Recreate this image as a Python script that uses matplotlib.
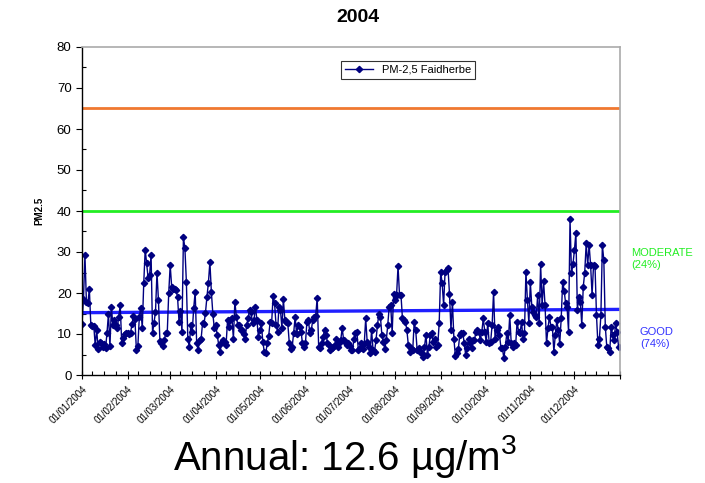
import numpy as np
import pandas as pd
import matplotlib
matplotlib.use("Agg")
import matplotlib.pyplot as plt
import matplotlib.dates as mdates
from matplotlib.ticker import MultipleLocator, FixedLocator

plt.rcParams['font.family'] = ['Liberation Sans', 'DejaVu Sans']
plt.rcParams['mathtext.fontset'] = 'custom'
plt.rcParams['mathtext.rm'] = 'Liberation Sans'
plt.rcParams['mathtext.it'] = 'Liberation Sans'

# daily PM2.5 values, one list per month
jan = [12.5, 18.5, 29.3, 17.9, 17.5, 21, 12.2, 12, 12, 7.3, 11, 6.3, 8, 7.7, 6.9, 7.5,
       6.5, 10.2, 15, 7, 16.5, 12.2, 13.4, 12.2, 11.4, 14.2, 17, 7.9, 9, 9.9, 10.3]
feb = [10.3, 10, 10.3, 12.4, 14.4, 13.6, 6.1, 7, 14.2, 16.3, 11.4, 22.4, 30.6, 27.2, 23.6,
       24.4, 29.3, 10.2, 12.8, 15.4, 25, 18.3, 8.3, 7.7, 7, 8.5, 10.3, 10.3, 20]
mar = [26.8, 21.5, 21, 20.9, 20.7, 19, 13, 15.7, 10.6, 33.6, 30.9, 22.8, 8.7, 6.9, 12.2, 10.6,
       16.4, 20.3, 7.7, 6.1, 8.5, 8.7, 12.6, 12.4, 15.2, 19.1, 22.5, 27.6, 20.3, 15, 11.4]
apr = [12.2, 9.8, 7.3, 5.7, 8.1, 8.5, 8.1, 7.3, 13.3, 11.8, 13.4, 13.8, 8.9, 17.9, 14.2,
       12.2, 12.2, 11, 11, 10, 8.9, 12.2, 13.8, 15.9, 15.4, 12.6, 13.4, 16.7, 13.4, 9.3]
may = [11, 12.6, 8.1, 5.7, 5.3, 7.7, 9.5, 13, 12.6, 19.3, 17.5, 12.2, 10.6, 16.7, 15.9, 11.4,
       18.5, 13.4, 13, 12.6, 7.9, 6.3, 6.9, 10.3, 14.1, 10, 12.2, 11.8, 10.6, 7.7, 6.9]
jun = [7.7, 13, 13.4, 10.2, 11, 13.4, 14.2, 14.4, 18.9, 6.9, 6.7, 7.9, 9.3, 11, 9.8,
       7.9, 7.3, 6.1, 6.5, 6.9, 7.3, 8.9, 6.9, 7.7, 8.5, 11.4, 8.5, 8.1, 7.3, 7.7]
jul = [7, 6, 6, 8.9, 10.2, 10.6, 6.1, 6.5, 7.9, 6.3, 7.5, 13.8, 8.1, 6.9, 5.3, 11,
       6.1, 5.7, 8.5, 12.2, 15, 14.2, 9.8, 8.1, 6.3, 8.5, 12.2, 16.7, 17.1, 10.2, 19.8]
aug = [18.3, 19.5, 26.6, 19.5, 19.5, 13.8, 13.4, 13, 11, 7.3, 5.7, 6.5, 6.1, 13, 11, 6.1,
       6.5, 5.7, 5.3, 4.5, 6.9, 9.8, 4.9, 6.9, 9.8, 10.2, 8.1, 8.9, 6.9, 7.3, 12.6]
sep = [25.2, 22.4, 17.1, 25.2, 25.6, 26, 19.8, 11, 17.9, 8.9, 4.6, 5.3, 6.3, 9.8, 10.2,
       10.3, 7.9, 4.9, 6.5, 8.7, 7.7, 6.5, 8.5, 8.5, 10.6, 11, 10.6, 8.5, 10.6, 13.8]
oct_ = [10.6, 8.1, 12.6, 7.9, 8.1, 12.2, 20.3, 8.9, 11, 11.8, 9.8, 6.7, 6.5, 4.1, 6.9, 10.2,
        8.1, 14.6, 7.7, 6.9, 7.7, 7.3, 13, 10.6, 10.2, 13, 8.9, 10.2, 25.2, 18.3, 12.6]
nov = [22.6, 16.7, 15.4, 14.6, 14.2, 19.5, 12.6, 27, 17.1, 22.9, 17.1, 7.7, 11.4, 14.2, 11.8,
       11.8, 5.7, 9.8, 13.3, 11, 7.6, 13.8, 22.8, 20.6, 17.5, 16.5, 10.6, 38, 24.8, 27]
dec = [30.5, 34.7, 15.9, 19.1, 17.9, 12.2, 21.5, 25, 32.1, 26.8, 31.7, 26.8, 19.5, 26.8, 26.6, 14.6,
       7.3, 8.9, 14.6, 31.7, 28, 11.8, 6.9, 6.5, 5.7, 11.8, 9.8, 8.5, 12.6, 10.6, 6.9]

pm25 = jan + feb + mar + apr + may + jun + jul + aug + sep + oct_ + nov + dec
dates = pd.date_range("2004-01-01", periods=len(pm25), freq="D")

good_limit = [15.2, 16.0]      # start / end of the blue "good" line
moderate_limit = 40
usg_limit = 65

fig = plt.figure(figsize=(7.05, 4.83), dpi=100)
ax = fig.add_axes([82/705, 1-375/483, 538/705, 328/483])

start, end = pd.Timestamp("2004-01-01"), pd.Timestamp("2005-01-01")
ax.plot([start, end], [usg_limit, usg_limit], color='#f07830', lw=2)
ax.plot([start, end], [moderate_limit, moderate_limit], color='#22ee22', lw=2)
ax.plot([start, end], good_limit, color='#1f1fff', lw=2.4)

ax.plot(dates, pm25, color='#000080', lw=1, marker='D', markersize=3.2,
        label='PM-2,5 Faidherbe')

ax.set_xlim(start, end)
ax.set_ylim(0, 80)
ax.yaxis.set_major_locator(MultipleLocator(10))
ax.yaxis.set_minor_locator(MultipleLocator(5))

month_starts = pd.date_range(start, end, freq='MS')
ax.xaxis.set_major_locator(FixedLocator(mdates.date2num(month_starts)))
ax.set_xticklabels([d.strftime('%d/%m/%Y') for d in month_starts[:-1]] + [''])
ax.xaxis.set_minor_locator(mdates.DayLocator(bymonthday=[8, 16, 24]))

ax.tick_params(axis='y', which='major', direction='out', length=4, labelsize=9.5, width=0.8)
ax.tick_params(axis='y', which='minor', direction='in', length=3, width=0.8)
ax.tick_params(axis='x', which='major', direction='inout', length=6, labelsize=7, width=0.8)
ax.tick_params(axis='x', which='minor', direction='in', length=3, width=0.8)
for lab in ax.get_xticklabels():
    lab.set_rotation(45)
    lab.set_ha('right')
    lab.set_rotation_mode('anchor')

for s in ['left', 'bottom']:
    ax.spines[s].set_color('black')
    ax.spines[s].set_linewidth(1)
for s in ['top', 'right']:
    ax.spines[s].set_color('#aaaaaa')
    ax.spines[s].set_linewidth(1.2)

ax.set_ylabel('PM2.5', fontsize=7, fontweight='bold', labelpad=9)
fig.text(358/705, 1-18/483, '2004', ha='center', va='center', fontsize=14, fontweight='bold')

leg = ax.legend(loc='center', bbox_to_anchor=(0.606, 0.93), fontsize=8, frameon=True,
                fancybox=False, edgecolor='black', borderpad=0.35, handlelength=2.5,
                borderaxespad=0)
leg.get_frame().set_linewidth(0.8)

fig.text(631/705, 1-259/483, 'MODERATE\n(24%)', color='#22ee22', fontsize=8,
         ha='left', va='center', linespacing=1.25)
fig.text(640/705, 1-338/483, 'GOOD\n(74%)', color='#3333ff', fontsize=8,
         ha='left', va='center', linespacing=1.25)

fig.text(345/705, 1-470/483, 'Annual: 12.6 µg/m$^3$', ha='center', va='baseline', fontsize=29)

fig.savefig('out.png', dpi=100)
